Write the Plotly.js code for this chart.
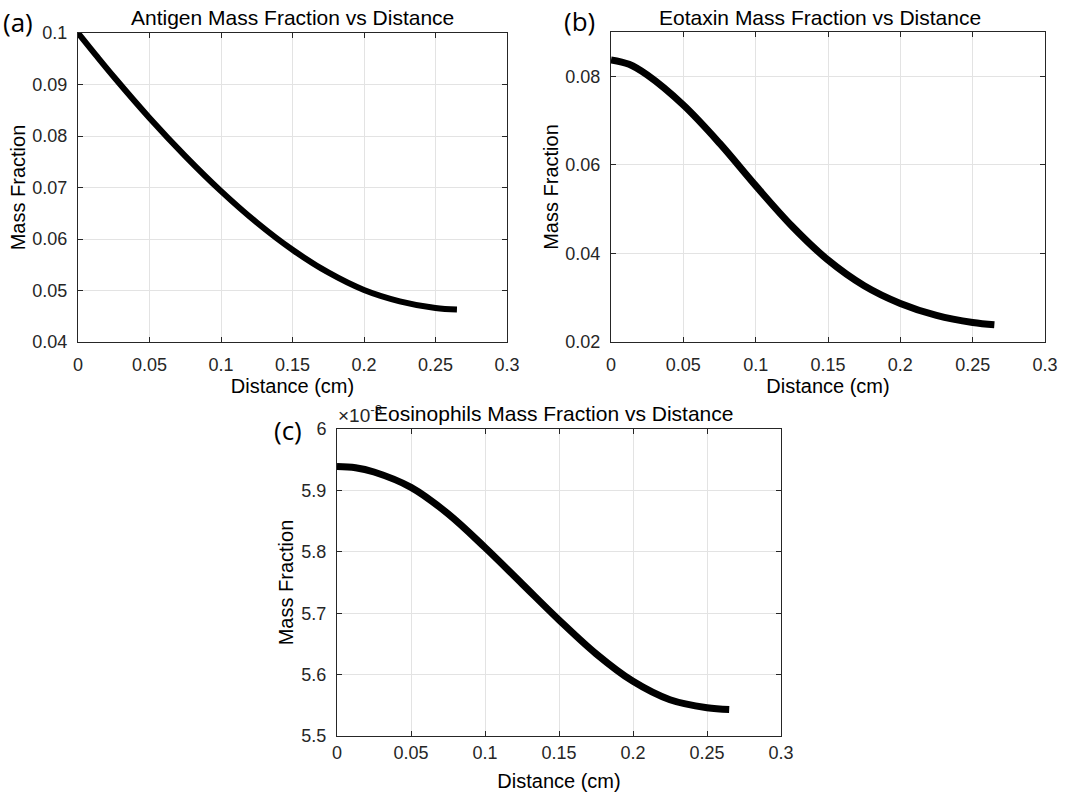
<!DOCTYPE html>
<html>
<head>
<meta charset="utf-8">
<script src="https://cdn.plot.ly/plotly-3.0.1.min.js"></script>
<style>html,body{margin:0;padding:0;background:#fff;}#chart{width:1074px;height:800px;}</style>
</head>
<body>
<div id="chart"></div>
<script>
// Distance (cm)
const distance = [0, 0.0125, 0.025, 0.05, 0.075, 0.1, 0.125, 0.15, 0.175, 0.2, 0.225, 0.25, 0.265];
// (a) Antigen mass fraction
const antigen = [0.1, 0.0957, 0.0915, 0.0835, 0.0761, 0.0693, 0.0632, 0.0579, 0.0535, 0.0501, 0.0479, 0.0466, 0.0463];
// (b) Eotaxin mass fraction
const eotaxin = [0.0837, 0.0827, 0.0803, 0.0735, 0.0649, 0.0553, 0.0462, 0.0385, 0.0327, 0.0287, 0.0260, 0.0244, 0.0239];
// (c) Eosinophils mass fraction, in units of 1e-3
const eosinophils = [5.939, 5.937, 5.930, 5.905, 5.862, 5.807, 5.748, 5.689, 5.634, 5.589, 5.559, 5.546, 5.543];

const titles = ['Antigen Mass Fraction vs Distance', 'Eotaxin Mass Fraction vs Distance', 'Eosinophils Mass Fraction vs Distance'];
const panelLabels = ['(a)', '(b)', '(c)'];
const xTitle = 'Distance (cm)';
const yTitle = 'Mass Fraction';
const exponentLabel = '×10<sup>-3</sup>';

const W = 1074, H = 800;
const boxes = [
  {x0: 78, x1: 507, y0: 33, y1: 342},
  {x0: 611, x1: 1045, y0: 32, y1: 342},
  {x0: 337, x1: 781, y0: 429, y1: 736}
];
const px = v => v / W;
const py = v => 1 - v / H;

const widths = [6, 7, 7];
const series = [antigen, eotaxin, eosinophils];
const traces = series.map((s, i) => ({
  x: distance, y: s,
  xaxis: i === 0 ? 'x' : 'x' + (i + 1), yaxis: i === 0 ? 'y' : 'y' + (i + 1),
  mode: 'lines', line: {color: '#000', width: widths[i], shape: 'spline', smoothing: 1}
}));

const FONT = 'Liberation Sans, Arial, sans-serif';
const tickFont = {family: FONT, size: 18, color: '#262626'};
const axTitleFont = {family: FONT, size: 20, color: '#000'};
const titleFont = {family: FONT, size: 21, color: '#000'};

const xStand = [[6, 2], [6, 2], [0, 12]];
const yStand = [[6, 1], [6, 1], [6, 2]];

function xaxis(i) {
  const b = boxes[i];
  return {
    domain: [px(b.x0), px(b.x1)], anchor: i === 0 ? 'y' : 'y' + (i + 1),
    range: [0, 0.3], tick0: 0, dtick: 0.05,
    showgrid: true, gridcolor: '#e3e3e3', gridwidth: 1,
    showline: true, linecolor: '#262626', linewidth: 1, mirror: 'ticks',
    ticks: 'inside', ticklen: 5, tickcolor: '#262626',
    zeroline: false, tickfont: tickFont, ticklabelstandoff: xStand[i][0],
    title: {text: xTitle, font: axTitleFont, standoff: xStand[i][1]}
  };
}
function yaxis(i, range, dtick, tick0) {
  const b = boxes[i];
  return {
    domain: [py(b.y1), py(b.y0)], anchor: i === 0 ? 'x' : 'x' + (i + 1),
    range: range, tick0: tick0, dtick: dtick,
    showgrid: true, gridcolor: '#e3e3e3', gridwidth: 1,
    showline: true, linecolor: '#262626', linewidth: 1, mirror: 'ticks',
    ticks: 'inside', ticklen: 5, tickcolor: '#262626',
    zeroline: false, tickfont: tickFont, ticklabelstandoff: yStand[i][0],
    title: {text: yTitle, font: axTitleFont, standoff: yStand[i][1]}
  };
}

const annotations = [];
annotations.push({
  text: exponentLabel, xref: 'paper', yref: 'paper',
  x: px(336), y: py(414), xanchor: 'left', yanchor: 'middle',
  showarrow: false, font: {family: FONT, size: 19, color: '#262626'}
});
const titlePos = [{x: 292, y: 18}, {x: 820, y: 18}, {x: 553, y: 413}];
titlePos.forEach((p, i) => {
  annotations.push({
    text: titles[i], xref: 'paper', yref: 'paper',
    x: px(p.x), y: py(p.y), xanchor: 'center', yanchor: 'middle',
    showarrow: false, font: titleFont
  });
});
const labelPos = [{x: 18, y: 22}, {x: 579, y: 21}, {x: 288, y: 430}];
labelPos.forEach((p, i) => {
  annotations.push({
    text: panelLabels[i], xref: 'paper', yref: 'paper',
    x: px(p.x), y: py(p.y), xanchor: 'center', yanchor: 'middle',
    showarrow: false, font: {family: 'Open Sans, sans-serif', size: 26, color: '#000'}
  });
});

const layout = {
  width: W, height: H,
  margin: {l: 0, r: 0, t: 0, b: 0},
  paper_bgcolor: '#fff', plot_bgcolor: '#fff',
  showlegend: false,
  xaxis: xaxis(0), xaxis2: xaxis(1), xaxis3: xaxis(2),
  yaxis: yaxis(0, [0.04, 0.1], 0.01, 0.04),
  yaxis2: yaxis(1, [0.02, 0.09], 0.02, 0.02),
  yaxis3: yaxis(2, [5.5, 6], 0.1, 5.5),
  annotations: annotations
};

Plotly.newPlot('chart', traces, layout, {displayModeBar: false, staticPlot: true});
</script>
</body>
</html>
